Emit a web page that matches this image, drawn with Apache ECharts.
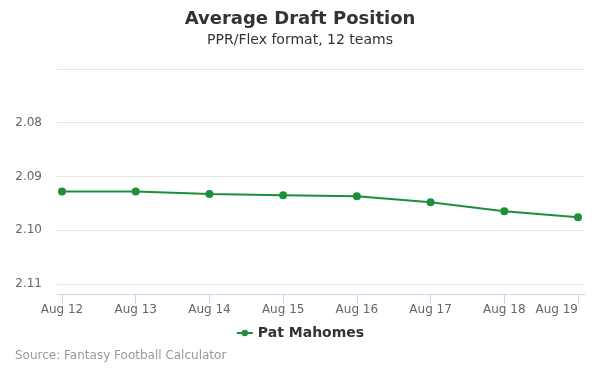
<!DOCTYPE html>
<html>
<head>
<meta charset="utf-8">
<script src="https://cdn.jsdelivr.net/npm/echarts@6/dist/echarts.min.js"></script>
<style>
  html, body { margin: 0; padding: 0; background: #fff; }
  #chart { width: 600px; height: 375px; }
</style>
</head>
<body>
<div id="chart"></div>
<script>
var dates = ['Aug 12', 'Aug 13', 'Aug 14', 'Aug 15', 'Aug 16', 'Aug 17', 'Aug 18', 'Aug 19'];
var adp = [2.0928, 2.0928, 2.0933, 2.0935, 2.0937, 2.0948, 2.0965, 2.0976];
var playerName = 'Pat Mahomes';

var font = 'DejaVu Sans';
var yMin = 2.07, yMax = 2.1119;

var chart = echarts.init(document.getElementById('chart'));
chart.setOption({
    animation: false,
    textStyle: { fontFamily: font },
    title: [
        {
            text: 'Average Draft Position',
            left: 'center', top: 10, padding: 0,
            textStyle: { fontSize: 18, fontWeight: 'bold', color: '#333', fontFamily: font }
        },
        {
            text: 'PPR/Flex format, 12 teams',
            left: 'center', top: 33, padding: 0,
            textStyle: { fontSize: 14, fontWeight: 'normal', color: '#333', fontFamily: font }
        },
        {
            text: 'Source: Fantasy Football Calculator',
            left: 15, top: 350, padding: 0,
            textStyle: { fontSize: 12, fontWeight: 'normal', color: '#999', fontFamily: font }
        }
    ],
    legend: {
        bottom: 30,
        left: 'center',
        itemWidth: 16,
        itemHeight: 8,
        itemGap: 5,
        textStyle: { fontSize: 14, fontWeight: 'bold', color: '#333', fontFamily: font },
        data: [playerName]
    },
    grid: [
        { left: 62, right: 22, top: 69, bottom: 81 },
        { left: 57, right: 15, top: 69, bottom: 81 }
    ],
    xAxis: [
        {
            type: 'category', gridIndex: 0, data: dates, boundaryGap: false,
            axisLine: { show: false },
            axisTick: { show: true, length: 10, lineStyle: { color: '#ccd6eb' } },
            axisLabel: { color: '#666', fontSize: 12, margin: 10, fontFamily: font, alignMaxLabel: 'right' },
            splitLine: { show: false }
        },
        {
            type: 'value', gridIndex: 1, min: 0, max: 1,
            axisLine: { show: true, lineStyle: { color: '#ccd6eb' } },
            axisTick: { show: false }, axisLabel: { show: false }, splitLine: { show: false }
        }
    ],
    yAxis: [
        {
            type: 'value', gridIndex: 0, inverse: true, min: yMin, max: yMax,
            show: false, splitLine: { show: false }
        },
        {
            type: 'value', gridIndex: 1, inverse: true, min: yMin, max: yMax, interval: 0.01,
            axisLine: { show: false }, axisTick: { show: false },
            axisLabel: {
                color: '#666', fontSize: 12, margin: 15, fontFamily: font,
                showMaxLabel: false,
                formatter: function (v) {
                    if (v < 2.075) return '';
                    return v.toFixed(2);
                }
            },
            splitLine: { lineStyle: { color: '#e6e6e6' } }
        }
    ],
    series: [
        {
            name: playerName,
            type: 'line',
            xAxisIndex: 0, yAxisIndex: 0,
            data: adp,
            symbol: 'circle',
            symbolSize: 8,
            color: '#1d8f3c',
            lineStyle: { width: 2 }
        }
    ]
});
</script>
</body>
</html>
